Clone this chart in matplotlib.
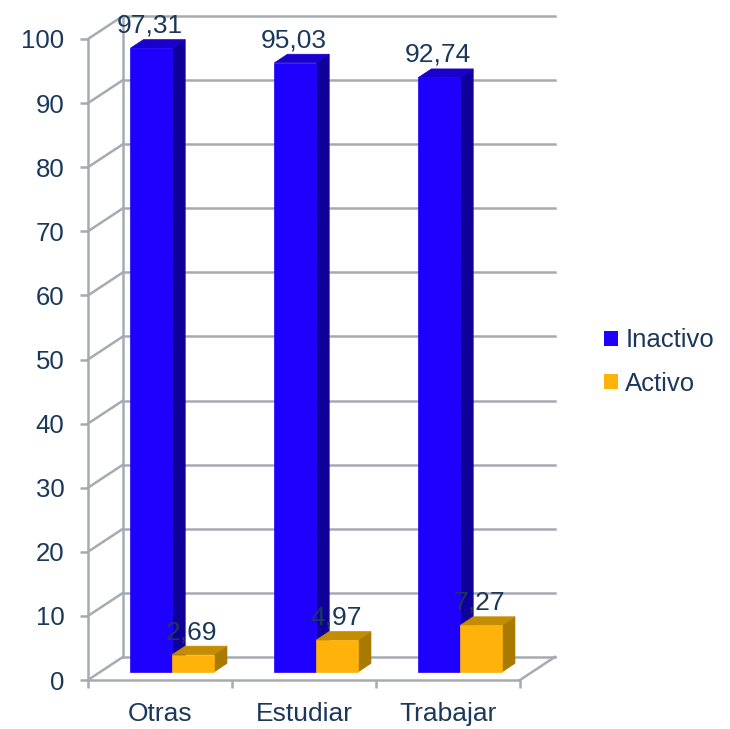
import numpy as np
import matplotlib.pyplot as plt
from matplotlib.patches import Polygon, Patch

plt.rcParams['font.family'] = ['Liberation Sans', 'DejaVu Sans']

# data
categorias = ['Otras', 'Estudiar', 'Trabajar']
inactivo = [97.31, 95.03, 92.74]
activo = [2.69, 4.97, 7.27]
etiquetas_inactivo = ['97,31', '95,03', '92,74']
etiquetas_activo = ['2,69', '4,97', '7,27']

texto = '#1B385A'
gris = '#A6AAB2'

# depth offset of the back wall, in data units
ox, oy = 0.243, 3.6
d1, d2 = 0.35, 0.72   # front and back of the columns
ancho = 0.29

def pt(x, y, d):
    return (x + d*ox, y + d*oy)

fig = plt.figure(figsize=(7.30, 7.29), dpi=100)
ax = fig.add_axes([88/730, 49/729, 432/730, 641/729])
ax.set_xlim(0, 3)
ax.set_ylim(0, 100)

# walls: back gridlines, left wall diagonals, floor edge
for k in range(0, 101, 10):
    ax.plot([0 + ox, 3 + ox], [k + oy, k + oy], color=gris, lw=1.8, clip_on=False, zorder=1)
    ax.plot([0, ox], [k, k + oy], color=gris, lw=1.8, clip_on=False, zorder=1)
ax.plot([ox, ox], [oy, 100 + oy], color=gris, lw=1.8, clip_on=False, zorder=1)
ax.plot([3, 3 + ox], [0, oy], color=gris, lw=1.8, clip_on=False, zorder=1)

def barra(x0, h, frente, lado, techo):
    x1 = x0 + ancho
    cara = [pt(x0, 0, d1), pt(x1, 0, d1), pt(x1, h, d1), pt(x0, h, d1)]
    costado = [pt(x1, 0, d1), pt(x1, 0, d2), pt(x1, h, d2), pt(x1, h, d1)]
    arriba = [pt(x0, h, d1), pt(x1, h, d1), pt(x1, h, d2), pt(x0, h, d2)]
    for poly, c in [(costado, lado), (arriba, techo), (cara, frente)]:
        ax.add_patch(Polygon(poly, closed=True, facecolor=c, edgecolor=c,
                             lw=0.5, clip_on=False, zorder=3))

for i in range(3):
    xb = i + 0.5 - ancho
    xa = i + 0.5
    barra(xb, inactivo[i], '#1E00FF', '#10009A', '#1A00CC')
    barra(xa, activo[i], '#FFB30A', '#A87A00', '#C48C00')

# value labels: centred on the front face, above the top
for i in range(3):
    for x0, h, lab in [(i + 0.5 - ancho, inactivo[i], etiquetas_inactivo[i]),
                       (i + 0.5, activo[i], etiquetas_activo[i])]:
        cx = pt(x0 + ancho/2, h, d1)[0]
        cy = pt(x0, h, d2)[1]
        ax.annotate(lab, (cx, cy), xytext=(-1, 5), textcoords='offset points',
                    ha='center', va='baseline', fontsize=19, color=texto,
                    annotation_clip=False, zorder=5)

# axes
for s in ['top', 'right']:
    ax.spines[s].set_visible(False)
for s in ['left', 'bottom']:
    ax.spines[s].set_color(gris)
    ax.spines[s].set_linewidth(1.8)
ax.set_facecolor('none')

ax.set_yticks(range(0, 101, 10))
ax.tick_params(axis='y', direction='out', length=6, width=1.8, color=gris,
               labelsize=18.5, labelcolor=texto, pad=11)
ax.set_xticks([0, 1, 2, 3])
ax.set_xticklabels([])
ax.set_xticks([0.5, 1.5, 2.5], minor=True)
ax.set_xticklabels(categorias, minor=True)
ax.tick_params(axis='x', which='major', direction='out', length=6, width=1.8, color=gris)
ax.tick_params(axis='x', which='minor', length=0, labelsize=19, labelcolor=texto, pad=16)

handles = [Patch(facecolor='#1E00FF'), Patch(facecolor='#FFB30A')]
fig.legend(handles, ['Inactivo', 'Activo'], loc='center left',
           bbox_to_anchor=(604/730, 1 - 362/729), frameon=False, fontsize=18.5,
           labelcolor=texto, handlelength=0.55, handleheight=0.55,
           handletextpad=0.28, labelspacing=0.75, borderpad=0, borderaxespad=0)

fig.savefig('out.png', dpi=100)
